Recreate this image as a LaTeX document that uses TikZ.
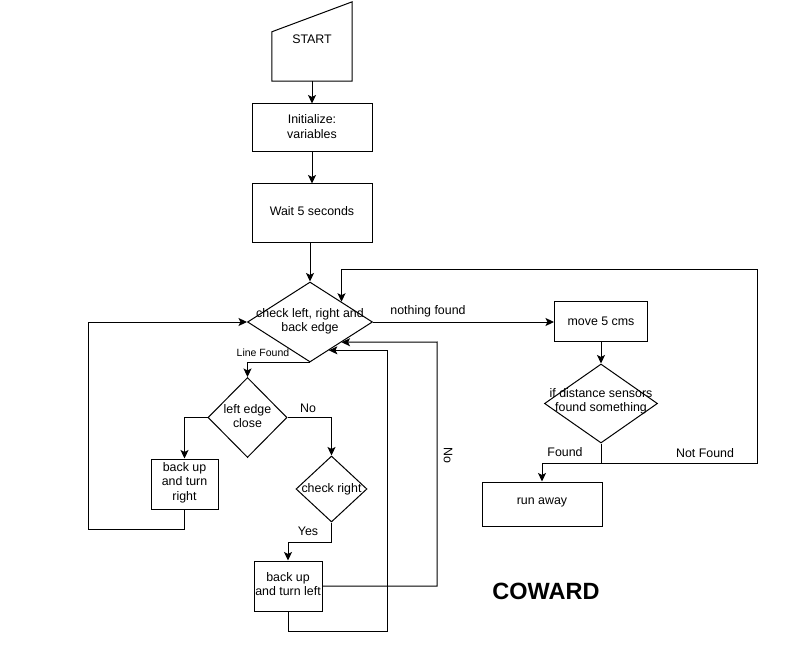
\documentclass[tikz,border=0pt]{standalone}
\usepackage{fontspec}
\setmainfont{Liberation Sans}
\usetikzlibrary{shapes.geometric,arrows.meta,calc}
\begin{document}
\begin{tikzpicture}[x=1pt,y=-1pt,
  every node/.style={font=\fontsize{12.4}{14.3}\selectfont},
  box/.style={draw, rectangle, line width=1pt, align=center, inner sep=0pt},
  dia/.style={draw, diamond, line width=1pt, inner sep=0pt},
  lbl/.style={inner sep=0pt},
  small/.style={font=\fontsize{10.5}{12}\selectfont},
  conn/.style={line width=1pt, -{Stealth[length=8.5pt,width=8pt,inset=2pt]}},
  wire/.style={line width=1pt}]
\useasboundingbox (0,0) rectangle (811,668);

% START
\node[minimum width=80pt, minimum height=79pt, inner sep=0pt,
  label={[lbl,yshift=2.5pt]center:START}] (start) at (312,41.5) {};
\draw[wire] (start.south west) -- (start.south east) -- (start.north east) -- ($(start.north west)+(0,30)$) -- cycle;

\node[box, minimum width=120pt, minimum height=48pt,
  label={[lbl,align=center,yshift=1.5pt]center:{Initialize:\\variables}}] (init) at (312,128) {};
\node[box, minimum width=120pt, minimum height=59pt,
  label={[lbl,yshift=2pt]center:{Wait 5 seconds}}] (wait) at (312,213.5) {};

\node[dia, minimum width=125pt, minimum height=80pt,
  label={[lbl,align=center,yshift=1pt]center:{check left, right and\\back edge}}] (chk) at (310,322) {};

\node[box, minimum width=93pt, minimum height=39pt] (move) at (601,321.5) {move 5 cms};
\node[dia, minimum width=113pt, minimum height=79pt,
  label={[lbl,align=center,yshift=2pt]center:{if distance sensors\\found something}}] (dist) at (601,403.5) {};
\node[box, minimum width=120pt, minimum height=44pt,
  label={[lbl,yshift=1.5pt]center:{run away}}] (run) at (542,504) {};

\node[dia, minimum width=79pt, minimum height=80pt,
  label={[lbl,align=center,yshift=1.5pt]center:{left edge\\close}}] (left) at (247.5,417.5) {};
\node[box, minimum width=67pt, minimum height=50pt,
  label={[lbl,align=center,yshift=1.5pt]center:{back up\\and turn\\right}}] (bur) at (184.5,484) {};
\node[dia, minimum width=71pt, minimum height=66pt,
  label={[lbl]center:{check right}}] (cr) at (331.5,489) {};
\node[box, minimum width=68pt, minimum height=50pt,
  label={[lbl,align=center,yshift=2pt]center:{back up\\and turn left}}] (bul) at (288,586) {};

% connectors
\draw[conn] (start.south) -- (init.north);
\draw[conn] (init.south) -- (wait.north);
\draw[conn] (chk.north |- wait.south) -- (chk.north);

\draw[conn] (chk.east) -- (chk.east -| move.west);
\node[lbl] (nf) at (428,311) {nothing found};

\draw[conn] (move.south) -- (dist.north);
\coordinate (j) at ($(dist.south)+(0,20)$);
\coordinate (ne) at (757,270);
\draw[conn] (dist.south) -- (j) -| (run.north);
\draw[conn] (j) -| (ne) -| ($(chk.north)!0.5!(chk.east)$);
\node[lbl] (fd) at (565,452) {Found};
\node[lbl] (nfd) at (705,453) {Not Found};

\draw[conn] (chk.south) -| (left.north);
\node[lbl, small] (lf) at (263,353) {Line Found};

\draw[conn] (left.west) -| (bur.north);
\coordinate (lw) at (88,529);
\draw[conn] (bur.south) |- (lw) |- (chk.west);

\draw[conn] (left.east) -| (cr.north);
\node[lbl] (no1) at (308,408) {No};

\coordinate (yc) at ($(cr.south)+(0,20)$);
\draw[conn] (cr.south) -- (yc) -| (bul.north);
\node[lbl] (yes) at (308,531) {Yes};

\coordinate (r1) at (437,342);
\draw[conn] (bul.east) -| (r1) -- ($(chk.east)!0.5!(chk.south)$);
\coordinate (r2) at (387,631);
\draw[conn] (bul.south) |- (r2) |- ($(chk.east)!0.7!(chk.south)$);
\node[lbl, rotate=-90] (no2) at (448,455) {No};

\node[font=\bfseries\fontsize{23.5}{28}\selectfont] (title) at (546,591) {COWARD};
\end{tikzpicture}
\end{document}
